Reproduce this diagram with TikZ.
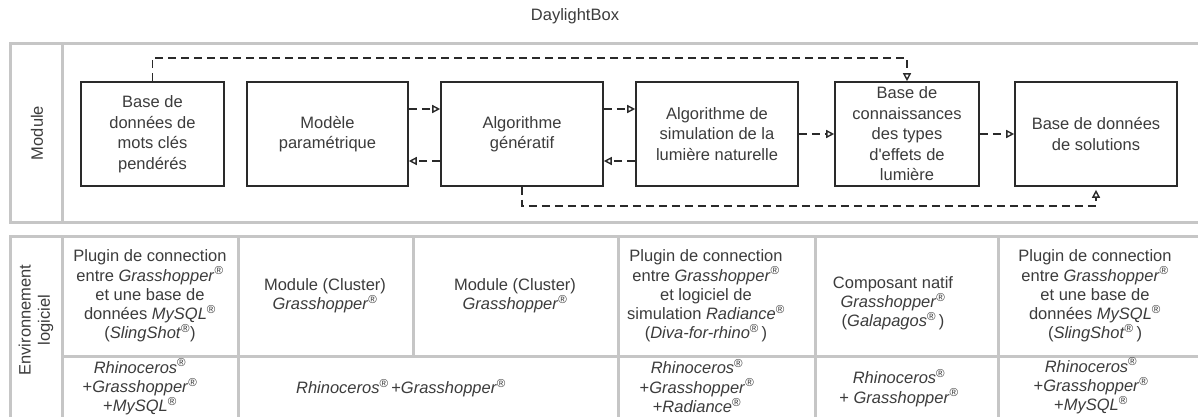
\documentclass[tikz,border=0pt]{standalone}
\usepackage{fontspec}
\setmainfont{Liberation Sans}
\usetikzlibrary{arrows.meta}
\definecolor{panelgray}{HTML}{C6C6C6}
\definecolor{boxline}{HTML}{2A2A2A}
\definecolor{txt}{HTML}{3C3C3C}
\newcommand\rg{\textsuperscript{®}}
\begin{document}
\begin{tikzpicture}[x=1pt,y=-1pt,
  panel/.style={draw=panelgray,line width=3pt},
  mbox/.style={draw=boxline,line width=1.6pt,text=txt,align=center,
    font=\fontsize{16.5}{20.5}\selectfont,inner sep=0pt},
  cell/.style={text=txt,align=center,font=\fontsize{16.5}{19.2}\selectfont,inner sep=0pt},
  flow/.style={draw=boxline,line width=1.6pt,dash pattern=on 8pt off 5pt,
    -{Triangle[open,length=8pt,width=8pt,line width=1.4pt]}},
]
\useasboundingbox (0,0) rectangle (1198,416);
\fill[white] (0,0) rectangle (1198,416);

\node[text=txt,font=\fontsize{16.5}{20}\selectfont] (title) at (575,16) {DaylightBox};

\begin{scope}
\clip (0,0) rectangle (1198,416);
% module panel
\draw[panel] (10,43) rectangle (1215,222);
\draw[panel] (62,43) -- (62,222);
% software panel
\draw[panel] (10,236) rectangle (1215,440);
\draw[panel] (62,236) -- (62,440);
\draw[panel] (62,356) -- (1215,356);
\draw[panel] (238,236) -- (238,440);
\draw[panel] (413,236) -- (413,356);
\draw[panel] (618,236) -- (618,440);
\draw[panel] (815,236) -- (815,440);
\draw[panel] (998,236) -- (998,440);
\end{scope}

\node[cell,rotate=90] (lmod) at (37,133) {Module};
\node[cell,rotate=90] (lenv) at (36,320) {Environnement\\logiciel};

% module boxes
\node[mbox,minimum width=143pt,minimum height=104pt] (b1) at (152.5,134)
  {Base de\\données de\\mots clés\\pendérés};
\node[mbox,minimum width=161pt,minimum height=104pt] (b2) at (327.5,134)
  {Modèle\\paramétrique};
\node[mbox,minimum width=162pt,minimum height=104pt] (b3) at (522,134)
  {Algorithme\\génératif};
\node[mbox,minimum width=162pt,minimum height=104pt] (b4) at (717,134)
  {Algorithme de\\simulation de la\\lumière naturelle};
\node[mbox,minimum width=144pt,minimum height=104pt] (b5) at (907,134)
  {Base de\\connaissances\\des types\\d\textquotesingle effets de\\lumière};
\node[mbox,minimum width=162pt,minimum height=104pt] (b6) at (1096,134)
  {Base de données\\de solutions};

% connectors
\draw[flow] (b2.east |- 0,109) -- (b3.west |- 0,109);
\draw[flow] (b3.west |- 0,161) -- (b2.east |- 0,161);
\draw[flow] (b3.east |- 0,109) -- (b4.west |- 0,109);
\draw[flow] (b4.west |- 0,161) -- (b3.east |- 0,161);
\draw[flow] (b4.east) -- (b5.west);
\draw[flow] (b5.east) -- (b6.west);
\draw[flow] (b1.north) -- (b1.north |- 0,58) -| (b5.north);
\draw[flow,shorten >=3pt] (b3.south) -- (b3.south |- 0,206) -| (b6.south);

% table cells, top row
\node[cell] (c1) at (150,296) {Plugin de connection\\entre \textit{Grasshopper}\rg\\et une base de\\données \textit{MySQL}\rg\\(\textit{SlingShot}\rg)};
\node[cell] (c2) at (325,296) {Module (Cluster)\\\textit{Grasshopper}\rg};
\node[cell] (c3) at (515,296) {Module (Cluster)\\\textit{Grasshopper}\rg};
\node[cell] (c4) at (706,296) {Plugin de connection\\entre \textit{Grasshopper}\rg\\et logiciel de\\simulation \textit{Radiance}\rg\\(\textit{Diva-for-rhino}\rg\,)};
\node[cell] (c5) at (893,303) {Composant natif\\\textit{Grasshopper}\rg\\(\textit{Galapagos}\rg\,)};
\node[cell] (c6) at (1095,296) {Plugin de connection\\entre \textit{Grasshopper}\rg\\et une base de\\données \textit{MySQL}\rg\\(\textit{SlingShot}\rg\,)};

% table cells, bottom row
\node[cell] (d1) at (140,387) {\textit{Rhinoceros}\rg\\+\textit{Grasshopper}\rg\\+\textit{MySQL}\rg};
\node[cell] (d2) at (401,388) {\textit{Rhinoceros}\rg\,+\textit{Grasshopper}\rg};
\node[cell] (d4) at (697,386) {\textit{Rhinoceros}\rg\\+\textit{Grasshopper}\rg\\+\textit{Radiance}\rg};
\node[cell] (d5) at (899,388) {\textit{Rhinoceros}\rg\\+ \textit{Grasshopper}\rg};
\node[cell] (d6) at (1091,386) {\textit{Rhinoceros}\rg\\+\textit{Grasshopper}\rg\\+\textit{MySQL}\rg};
\end{tikzpicture}
\end{document}
